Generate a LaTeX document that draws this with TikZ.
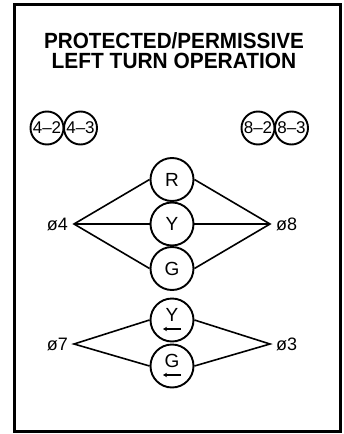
\documentclass[tikz,border=0pt]{standalone}
\usepackage{graphicx}
\usepackage{fontspec}
\setmainfont{Liberation Sans}
\usetikzlibrary{arrows.meta}
\begin{document}
\begin{tikzpicture}[x=1pt,y=-1pt,
  big/.style={circle,draw,line width=1.9pt,minimum size=43pt,inner sep=0pt},
  small/.style={circle,draw,line width=1.9pt,minimum size=33pt,inner sep=0pt,font=\fontsize{17}{17}\selectfont},
  letter/.style={inner sep=0pt,font=\fontsize{19}{19}\selectfont},
  lbl/.style={inner sep=0pt,font=\fontsize{18}{18}\selectfont},
  conn/.style={line width=1.6pt},
  larrow/.style={line width=1.2pt,-{Stealth[length=4pt,width=4.5pt]}},
  title/.style={inner sep=0pt,anchor=base,font=\bfseries\fontsize{22}{22}\selectfont}]
\useasboundingbox (0,0) rectangle (344,434);
\draw[line width=3pt] (14,4) rectangle (340,431);
% title
\node[title] (t1) at (174,48) {\scalebox{0.94}[1]{PROTECTED/PERMISSIVE}};
\node[title] (t2) at (174,68) {\scalebox{0.95}[1]{LEFT TURN OPERATION}};
% small circles
\node[small] (c42) at (47,128) {4\textendash2};
\node[small] (c43) at (80.5,128) {4\textendash3};
\node[small] (c82) at (258,128) {8\textendash2};
\node[small] (c83) at (291.5,128) {8\textendash3};
% big circles
\node[big] (r) at (172,179.5) {};
\node[letter] (rL) at (r.center) {R};
\node[big] (y) at (172,224) {};
\node[letter] (yL) at (y.center) {Y};
\node[big] (g) at (172,268.5) {};
\node[letter] (gL) at (g.center) {G};
\node[big] (ya) at (172,320) {};
\node[letter] (yaL) at ([yshift=5pt]ya.center) {Y};
\node[big] (ga) at (172,366) {};
\node[letter] (gaL) at ([yshift=5pt]ga.center) {G};
\draw[larrow] ([xshift=9pt,yshift=-9pt]ya.center) -- ([xshift=-9pt,yshift=-9pt]ya.center);
\draw[larrow] ([xshift=9pt,yshift=-9pt]ga.center) -- ([xshift=-9pt,yshift=-9pt]ga.center);
% phase vertices
\coordinate (v4) at (74,224);
\coordinate (v8) at (270,224);
\coordinate (v7) at (74,344);
\coordinate (v3) at (270,344);
\node[lbl,anchor=east] (p4) at (68,224) {ø4};
\node[lbl,anchor=west] (p8) at (276,224) {ø8};
\node[lbl,anchor=east] (p7) at (68,344) {ø7};
\node[lbl,anchor=west] (p3) at (276,344) {ø3};
% connectors
\draw[conn] (r.west) -- (v4) -- (g.west);
\draw[conn] (v4) -- (y.west);
\draw[conn] (r.east) -- (v8) -- (g.east);
\draw[conn] (v8) -- (y.east);
\draw[conn] (ya.west) -- (v7) -- (ga.west);
\draw[conn] (ya.east) -- (v3) -- (ga.east);
\end{tikzpicture}
\end{document}
